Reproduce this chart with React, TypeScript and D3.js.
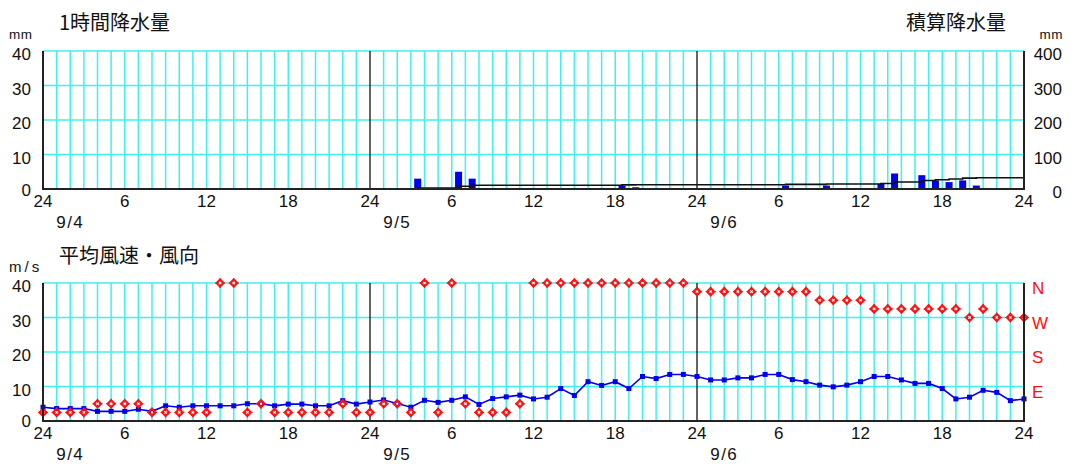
import React from "react";
import * as d3 from "d3";

// ---- data ----
const dayLabels = ["9/4", "9/5", "9/6"];
const tickHours = [0, 6, 12, 18, 24, 30, 36, 42, 48, 54, 60, 66, 72];
const rainTicks = [0, 10, 20, 30, 40];
const cumTicks = [0, 100, 200, 300, 400];
const windTicks = [0, 10, 20, 30, 40];
const dirLabels = ["E", "S", "W", "N"];
const dirNames = ["N", "NNE", "NE", "ENE", "E", "ESE", "SE", "SSE", "S", "SSW", "SW", "WSW", "W", "WNW", "NW", "NNW"];

// hour (ending) counted from 9/4 0:00, and mm of rain in that hour
const rainHours = [28, 31, 32, 43, 44, 55, 58, 62, 63, 65, 66, 67, 68, 69];
const rainMm = [3, 5, 3, 1, 0.5, 1, 1, 1.5, 4.5, 4, 2.5, 2, 2.5, 1];

// hourly mean wind speed (m/s), hours 0..72
const windSpeed = [
  4.0, 3.6, 3.6, 3.6, 2.8, 2.8, 2.8, 3.4, 2.8, 4.4,
  4.0, 4.4, 4.4, 4.4, 4.4, 5.0, 5.0, 4.4, 4.9, 4.9,
  4.4, 4.4, 5.9, 4.9, 5.5, 6.1, 5.1, 4.0, 6.0, 5.4,
  6.0, 7.0, 4.8, 6.5, 7.0, 7.5, 6.4, 6.9, 9.4, 7.4,
  11.4, 10.3, 11.4, 9.4, 12.9, 12.3, 13.5, 13.5, 12.9, 11.9,
  11.9, 12.5, 12.5, 13.5, 13.5, 12.0, 11.4, 10.4, 9.9, 10.4,
  11.4, 12.9, 12.9, 11.9, 10.9, 10.9, 9.4, 6.4, 6.9, 8.9,
  8.3, 5.9, 6.4,
];

// hourly wind direction, hours 0..72
const windDir = [
  "NNE", "NNE", "NNE", "NNE", "NE", "NE", "NE", "NE", "NNE", "NNE",
  "NNE", "NNE", "NNE", "N", "N", "NNE", "NE", "NNE", "NNE", "NNE",
  "NNE", "NNE", "NE", "NNE", "NNE", "NE", "NE", "NNE", "N", "NNE",
  "N", "NE", "NNE", "NNE", "NNE", "NE", "N", "N", "N", "N",
  "N", "N", "N", "N", "N", "N", "N", "N", "NNW", "NNW",
  "NNW", "NNW", "NNW", "NNW", "NNW", "NNW", "NNW", "NW", "NW", "NW",
  "NW", "WNW", "WNW", "WNW", "WNW", "WNW", "WNW", "WNW", "W", "WNW",
  "W", "W", "W",
];

const FONT = "'Noto Sans CJK JP', 'Noto Sans', sans-serif";
const NUMFONT = "'Liberation Sans', 'DejaVu Sans', sans-serif";
const GRID = "#3ff0f0";

const X0 = 43;
const X1 = 1024;

const x = d3.scaleLinear().domain([0, 72]).range([X0, X1]);

function Grid({ top, bottom, y }: { top: number; bottom: number; y: d3.ScaleLinear<number, number> }) {
  const hrs = d3.range(1, 72);
  return (
    <g>
      {hrs.filter((h) => h % 24 !== 0).map((h) => (
        <line key={"v" + h} x1={x(h)} x2={x(h)} y1={top} y2={bottom} stroke={GRID} strokeWidth={1.5} />
      ))}
      {[10, 20, 30, 40].map((v) => (
        <line key={"h" + v} x1={X0} x2={X1} y1={y(v)} y2={y(v)} stroke={GRID} strokeWidth={1.5} />
      ))}
      {[24, 48].map((h) => (
        <line key={"d" + h} x1={x(h)} x2={x(h)} y1={top} y2={bottom} stroke="#111" strokeWidth={1.3} />
      ))}
    </g>
  );
}

function Axes({ top, bottom }: { top: number; bottom: number }) {
  return (
    <g>
      <line x1={X0} x2={X0} y1={top} y2={bottom + 1} stroke="#222" strokeWidth={2} />
      <line x1={X1} x2={X1} y1={top} y2={bottom + 1} stroke="#222" strokeWidth={2} />
      <line x1={X0} x2={X1} y1={bottom} y2={bottom} stroke="#222" strokeWidth={2} />
    </g>
  );
}

function XLabels({ bottom }: { bottom: number }) {
  return (
    <g fontFamily={NUMFONT} fontSize={17} fill="#111">
      {tickHours.map((h) => (
        <text key={"t" + h} x={x(h)} y={bottom + 18} textAnchor="middle">
          {h % 24 === 0 ? "24" : String(h % 24)}
        </text>
      ))}
      {dayLabels.map((d, i) => (
        <text key={d} x={x(i * 24 + 2)} y={bottom + 39} textAnchor="middle" letterSpacing={1.5}>
          {d}
        </text>
      ))}
    </g>
  );
}

export default function App() {
  // top chart
  const tTop = 51;
  const tBot = 189;
  const yRain = d3.scaleLinear().domain([0, 40]).range([tBot, tTop]);
  const yCum = d3.scaleLinear().domain([0, 400]).range([tBot, tTop]);

  let acc = 0;
  const cumPts: [number, number][] = rainHours.map((h, i) => {
    acc += rainMm[i];
    return [h - 0.5, acc];
  });
  cumPts.push([72, acc]);
  const cumLine = d3
    .line<[number, number]>()
    .x((d) => x(d[0]))
    .y((d) => yCum(d[1]))
    .curve(d3.curveStepAfter)(cumPts);

  // bottom chart
  const bTop = 283;
  const bBot = 421;
  const yWind = d3.scaleLinear().domain([0, 40]).range([bBot, bTop]);
  const dirValue = (name: string) => {
    const idx = dirNames.indexOf(name);
    return idx === 0 ? 40 : idx * 2.5;
  };
  const speedLine = d3
    .line<number>()
    .x((_, i) => x(i))
    .y((d) => yWind(d))(windSpeed);

  const diamond = (cx: number, cy: number, r: number) =>
    `M${cx},${cy - r}L${cx + r},${cy}L${cx},${cy + r}L${cx - r},${cy}Z`;

  return (
    <svg
      width={1071}
      height={464}
      style={{ position: "absolute", left: 0, top: 0, background: "#fff" }}
    >
      <rect width={1071} height={464} fill="#fff" />

      {/* ---------- top chart ---------- */}
      <Grid top={tTop} bottom={tBot} y={yRain} />
      {rainHours.map((h, i) => (
        <rect
          key={"r" + h}
          x={x(h - 0.5) - 3.5}
          width={7}
          y={yRain(rainMm[i])}
          height={tBot - yRain(rainMm[i])}
          fill="#0000f0"
        />
      ))}
      <path d={cumLine || ""} fill="none" stroke="#111" strokeWidth={1.6} />
      <Axes top={tTop} bottom={tBot} />
      <g fontFamily={NUMFONT} fontSize={17} fill="#111">
        {rainTicks.map((v) => (
          <text key={"l" + v} x={31} y={yRain(v) + (v === 0 ? 7 : 9)} textAnchor="end">
            {v}
          </text>
        ))}
        {cumTicks.map((v) => (
          <text key={"c" + v} x={1062} y={yCum(v) + 9} textAnchor="end">
            {v}
          </text>
        ))}
      </g>
      <XLabels bottom={tBot} />
      <g fontFamily={FONT} fill="#111">
        <text x={59} y={30} fontSize={20}>1時間降水量</text>
        <text x={1006} y={30} fontSize={20} textAnchor="end">積算降水量</text>
      </g>
      <g fontFamily={NUMFONT} fill="#111">
        <text x={9} y={39} fontSize={13.5} letterSpacing={0.5}>mm</text>
        <text x={1063} y={39} fontSize={13.5} textAnchor="end" letterSpacing={0.5}>mm</text>
      </g>

      {/* ---------- bottom chart ---------- */}
      <Grid top={bTop} bottom={bBot} y={yWind} />
      <path d={speedLine || ""} fill="none" stroke="#0000f0" strokeWidth={1.6} />
      {windSpeed.map((v, i) => (
        <rect key={"s" + i} x={x(i) - 2.5} y={yWind(v) - 2.5} width={5} height={5} fill="#0000f0" />
      ))}
      {windDir.map((d, i) => {
        const cx = x(i);
        const cy = yWind(dirValue(d));
        return (
          <g key={"w" + i}>
            <path d={diamond(cx, cy, 3.6)} fill="none" stroke="#ff1010" strokeWidth={2} />
            <line x1={cx - 5} x2={cx + 5} y1={cy} y2={cy} stroke="#ff1010" strokeWidth={1} />
            <line x1={cx} x2={cx} y1={cy - 5} y2={cy + 5} stroke="#ff1010" strokeWidth={1} />
            <rect x={cx - 1} y={cy - 1} width={2} height={2} fill="#fff" />
          </g>
        );
      })}
      <Axes top={bTop} bottom={bBot} />
      <g fontFamily={NUMFONT} fontSize={17} fill="#111">
        {windTicks.map((v) => (
          <text key={"wl" + v} x={31} y={yWind(v) + (v === 0 ? 6 : 9)} textAnchor="end">
            {v}
          </text>
        ))}
      </g>
      <g fontFamily={NUMFONT} fontSize={17} fill="#ff1010">
        {dirLabels.map((l, i) => (
          <text key={l} x={1032} y={yWind((i + 1) * 10) + 11}>
            {l}
          </text>
        ))}
      </g>
      <XLabels bottom={bBot} />
      <g fontFamily={FONT} fill="#111">
        <text x={59} y={263} fontSize={20}>平均風速・風向</text>
      </g>
      <g fontFamily={NUMFONT} fill="#111">
        <text x={9} y={271.5} fontSize={15} letterSpacing={3}>m/s</text>
      </g>
    </svg>
  );
}
